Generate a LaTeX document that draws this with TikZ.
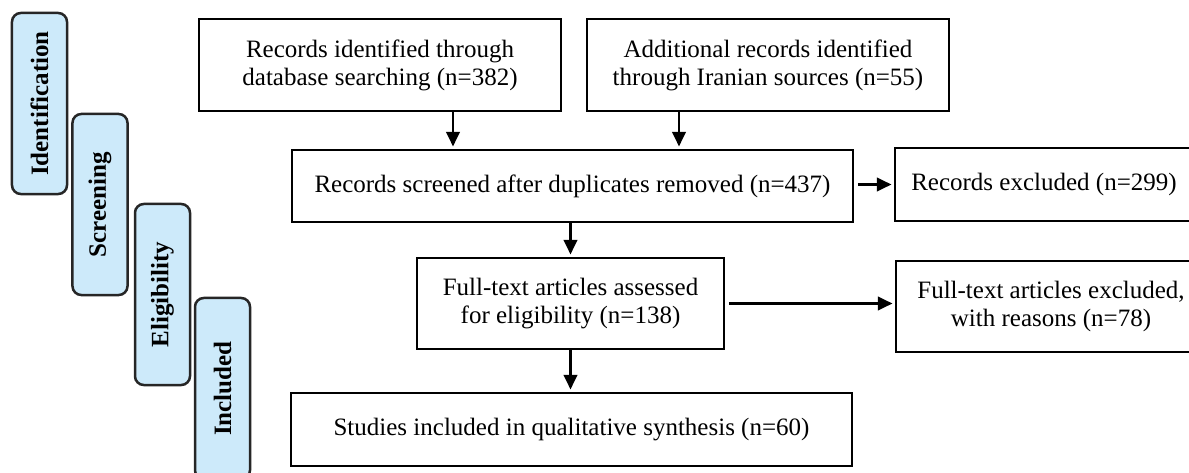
\documentclass[tikz,border=0pt]{standalone}
\usepackage{fontspec}
\setmainfont{Liberation Serif}
\usetikzlibrary{arrows.meta}
\definecolor{stagefill}{RGB}{205,234,250}

\begin{document}
\begin{tikzpicture}[x=0.4pt,y=-0.4pt,
  box/.style={draw, line width=0.85pt, align=center, inner sep=2pt, font=\fontsize{10}{11.2}\selectfont},
  stage/.style={draw=black!85, line width=1pt, fill=stagefill, rounded corners=3.5pt, rotate=90,
    minimum width=72.4pt, minimum height=22pt, inner sep=1pt, font=\bfseries\fontsize{10}{12}\selectfont},
  arr/.style={-{Triangle[length=5.8pt,width=5.4pt]}, line width=0.85pt, shorten >=1pt}]
\useasboundingbox (0,0) rectangle (1189,473);

\node[stage] (idn) at (39.5,103.5) {Identification};
\node[stage] (scr) at (100,204.5)  {Screening};
\node[stage] (elg) at (162.5,294.5) {Eligibility};
\node[stage] (inc) at (222.5,388.5) {Included};

\node[box, minimum width=144.8pt, minimum height=36.8pt] (db)  at (380,65)  {Records identified through\\database searching (n=382)};
\node[box, minimum width=144.8pt, minimum height=36.8pt] (ir)  at (768,65)  {Additional records identified\\through Iranian sources (n=55)};
\node[box, minimum width=224.4pt, minimum height=28.8pt] (scd) at (572.5,186) {Records screened after duplicates removed (n=437)};
\node[box, minimum width=119.2pt, minimum height=29.2pt] (exc) at (1044,184.5) {Records excluded (n=299)};
\node[box, minimum width=122.8pt, minimum height=36.4pt] (ft)  at (570.5,303.5) {Full-text articles assessed\\for eligibility (n=138)};
\node[box, minimum width=124pt,   minimum height=36.4pt] (fte) at (1051,306.5) {Full-text articles excluded,\\with reasons (n=78)};
\node[box, minimum width=224.4pt, minimum height=29.2pt] (inq) at (571.5,429.5) {Studies included in qualitative synthesis (n=60)};

\draw[arr] ([xshift=29.2pt]db.south) -- ([xshift=29.2pt]db.south |- scd.north);
\draw[arr] ([xshift=-35.6pt]ir.south) -- ([xshift=-35.6pt]ir.south |- scd.north);
\draw[arr, shorten <=1.5pt] ([yshift=0.6pt]scd.east) -- ([yshift=0.6pt]scd.east -| exc.west);
\draw[arr] (scd.south -| ft.north) -- (ft.north);
\draw[arr, shorten <=1.5pt] (ft.east) -- (ft.east -| fte.west);
\draw[arr] (ft.south) -- (ft.south |- inq.north);
\end{tikzpicture}
\end{document}
